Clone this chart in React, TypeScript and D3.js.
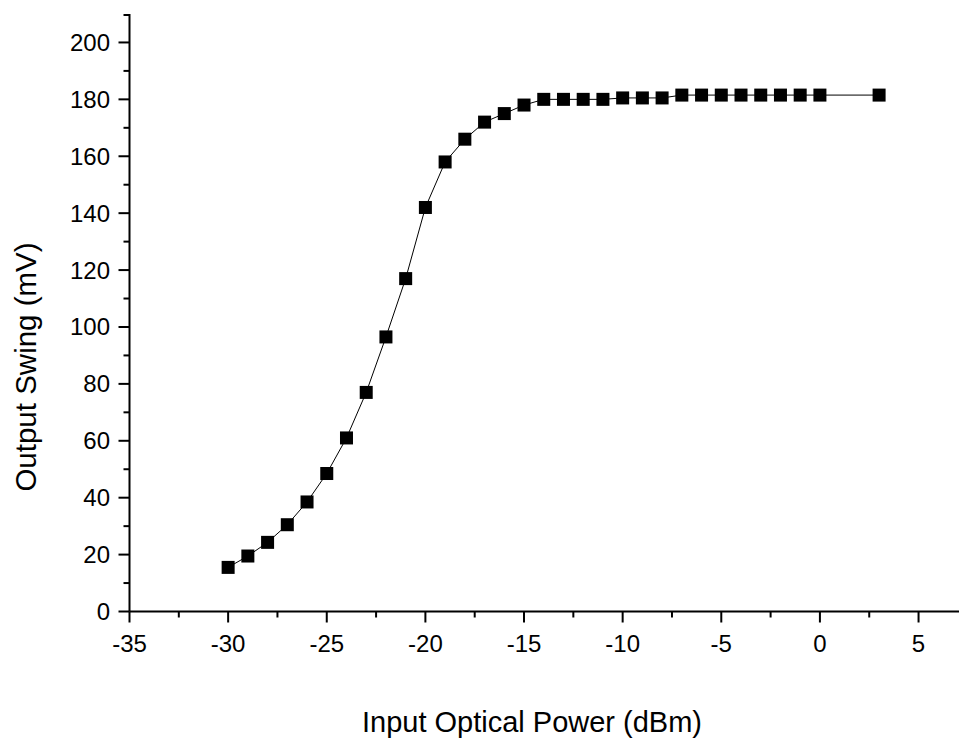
import React from "react";
import * as d3 from "d3";

const xValues = [-30, -29, -28, -27, -26, -25, -24, -23, -22, -21, -20, -19, -18, -17, -16, -15, -14, -13, -12, -11, -10, -9, -8, -7, -6, -5, -4, -3, -2, -1, 0, 3];
const yValues = [15.5, 19.5, 24.3, 30.5, 38.5, 48.5, 61, 77, 96.5, 117, 142, 158, 166, 172, 175, 178, 180, 180, 180, 180, 180.5, 180.5, 180.5, 181.5, 181.5, 181.5, 181.5, 181.5, 181.5, 181.5, 181.5, 181.5];
const xTicks = [-35, -30, -25, -20, -15, -10, -5, 0, 5];
const yTicks = [0, 20, 40, 60, 80, 100, 120, 140, 160, 180, 200];
const xLabel = "Input Optical Power (dBm)";
const yLabel = "Output Swing (mV)";

export default function App() {
  const W = 959, H = 738;
  const left = 129.5, right = 958, top = 14, bottom = 611.5;
  const x = d3.scaleLinear().domain([-35, 7]).range([left, right]);
  const y = d3.scaleLinear().domain([0, 210]).range([bottom, top]);
  const line = d3.line<number>().x((_, i) => x(xValues[i])).y((d) => y(d));
  const xMinor = d3.range(-32.5, 7, 5);
  const yMinor = d3.range(10, 210, 20);
  const font = "'Liberation Sans', Arial, sans-serif";
  const sq = 13;
  return (
    <svg width={W} height={H} style={{ position: "absolute", left: 0, top: 0 }}>
      <rect width={W} height={H} fill="#fff" />
      <path d={line(yValues) || ""} fill="none" stroke="#000" strokeWidth={1} />
      {yValues.map((v, i) => (
        <rect key={i} x={x(xValues[i]) - sq / 2} y={y(v) - sq / 2} width={sq} height={sq} fill="#000" />
      ))}
      <line x1={left} x2={right + 1} y1={bottom} y2={bottom} stroke="#000" strokeWidth={2} />
      <line x1={left} x2={left} y1={top} y2={bottom} stroke="#000" strokeWidth={2} />
      {xTicks.map((t) => (
        <g key={t}>
          <line x1={x(t)} x2={x(t)} y1={bottom} y2={bottom + 11} stroke="#000" strokeWidth={2} />
          <text x={x(t)} y={bottom + 40} textAnchor="middle" fontFamily={font} fontSize={24}>{t}</text>
        </g>
      ))}
      {xMinor.map((t) => (
        <line key={t} x1={x(t)} x2={x(t)} y1={bottom} y2={bottom + 6} stroke="#000" strokeWidth={2} />
      ))}
      {yTicks.map((t) => (
        <g key={t}>
          <line x1={left - 11} x2={left} y1={y(t)} y2={y(t)} stroke="#000" strokeWidth={2} />
          <text x={left - 19.5} y={y(t) + 8.5} textAnchor="end" fontFamily={font} fontSize={24}>{t}</text>
        </g>
      ))}
      {yMinor.map((t) => (
        <line key={t} x1={left - 6} x2={left} y1={y(t)} y2={y(t)} stroke="#000" strokeWidth={2} />
      ))}
      <line x1={left - 6} x2={left} y1={top + 1} y2={top + 1} stroke="#000" strokeWidth={2} />
      <text x={532} y={732} textAnchor="middle" fontFamily={font} fontSize={29}>{xLabel}</text>
      <text transform={`translate(36,367) rotate(-90)`} textAnchor="middle" fontFamily={font} fontSize={29.5}>{yLabel}</text>
    </svg>
  );
}
